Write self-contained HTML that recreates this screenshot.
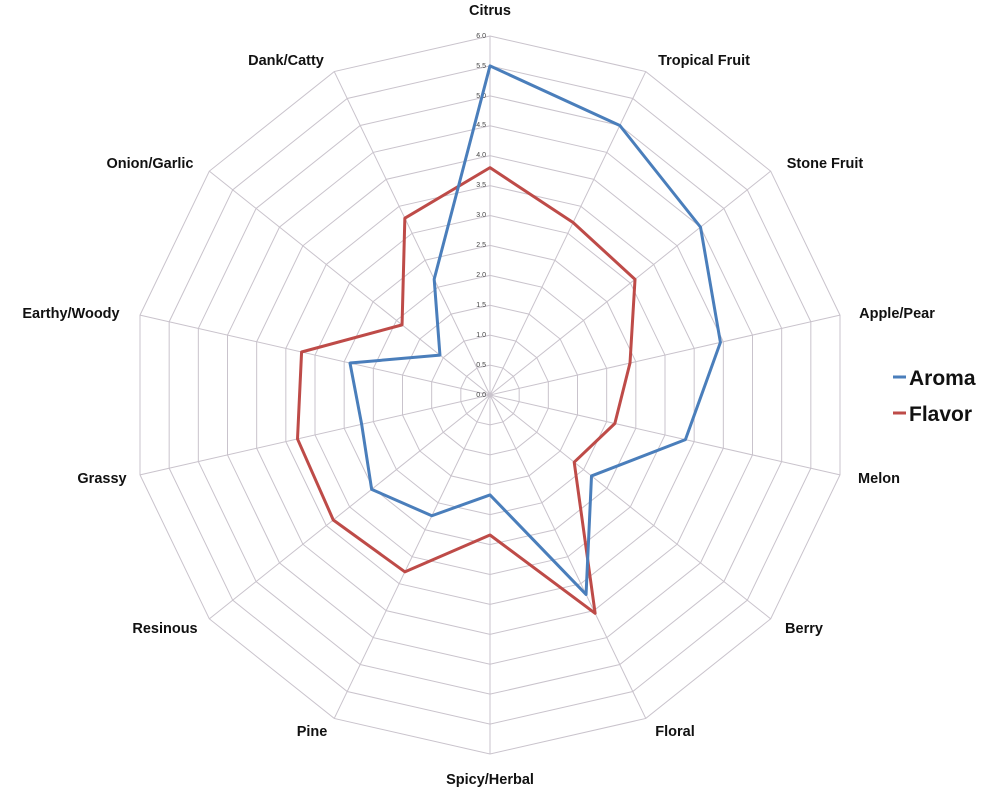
<!DOCTYPE html>
<html><head><meta charset="utf-8"><style>
html,body{margin:0;padding:0;background:#fff;}
svg{display:block;}
.l{font-family:"Liberation Sans",sans-serif;font-weight:bold;font-size:14.5px;fill:#111;text-anchor:middle;}
.t{font-family:"Liberation Sans",sans-serif;font-size:7px;fill:#444;text-anchor:end;}
.g{font-family:"Liberation Sans",sans-serif;font-weight:bold;font-size:21px;fill:#111;}
</style></head><body>
<svg id="s" width="1000" height="794" viewBox="0 0 1000 794" xmlns="http://www.w3.org/2000/svg">
<g id="grid"></g>
<g id="ticks">
<text class="t" x="486" y="397">0.0</text>
<text class="t" x="486" y="367">0.5</text>
<text class="t" x="486" y="337">1.0</text>
<text class="t" x="486" y="307">1.5</text>
<text class="t" x="486" y="277">2.0</text>
<text class="t" x="486" y="247">2.5</text>
<text class="t" x="486" y="217">3.0</text>
<text class="t" x="486" y="187">3.5</text>
<text class="t" x="486" y="157">4.0</text>
<text class="t" x="486" y="127">4.5</text>
<text class="t" x="486" y="98">5.0</text>
<text class="t" x="486" y="68">5.5</text>
<text class="t" x="486" y="38">6.0</text>
</g>
<g id="series"></g>
<text class="l" x="490" y="15">Citrus</text>
<text class="l" x="704" y="65">Tropical Fruit</text>
<text class="l" x="825" y="168">Stone Fruit</text>
<text class="l" x="897" y="318">Apple/Pear</text>
<text class="l" x="879" y="483">Melon</text>
<text class="l" x="804" y="633">Berry</text>
<text class="l" x="675" y="736">Floral</text>
<text class="l" x="490" y="784">Spicy/Herbal</text>
<text class="l" x="312" y="736">Pine</text>
<text class="l" x="165" y="633">Resinous</text>
<text class="l" x="102" y="483">Grassy</text>
<text class="l" x="71" y="318">Earthy/Woody</text>
<text class="l" x="150" y="168">Onion/Garlic</text>
<text class="l" x="286" y="65">Dank/Catty</text>
<line x1="893" y1="377" x2="906" y2="377" stroke="#4a7ebb" stroke-width="3"/>
<text class="g" x="909" y="385">Aroma</text>
<line x1="893" y1="413" x2="906" y2="413" stroke="#be4b48" stroke-width="3"/>
<text class="g" x="909" y="421">Flavor</text>
</svg>
<script>
var cx=490,cy=395,R=359,N=14;
function pt(i,v){var a=i*2*Math.PI/N;var r=v/6*R;return [cx+r*Math.sin(a),cy-r*Math.cos(a)];}
var g=document.getElementById('grid'),h='';
for(var k=1;k<=12;k++){var p=[];for(var i=0;i<N;i++){p.push(pt(i,k*0.5).join(','));}
h+='<polygon points="'+p.join(' ')+'" fill="none" stroke="#c9c3cc" stroke-width="1"/>';}
for(var i=0;i<N;i++){var q=pt(i,6);h+='<line x1="'+cx+'" y1="'+cy+'" x2="'+q[0]+'" y2="'+q[1]+'" stroke="#c9c3cc" stroke-width="1"/>';}
g.innerHTML=h;
var aroma=[5.5,5.0,4.5,3.95,3.35,2.17,3.7,1.67,2.24,2.53,2.2,2.4,1.07,2.15];
var flavor=[3.8,3.2,3.1,2.4,2.14,1.8,4.05,2.34,3.28,3.35,3.3,3.23,1.88,3.28];
function poly(d,c){var p=[];for(var i=0;i<N;i++)p.push(pt(i,d[i]).join(','));return '<polygon points="'+p.join(' ')+'" fill="none" stroke="'+c+'" stroke-width="3" stroke-linejoin="round"/>';}
document.getElementById('series').innerHTML=poly(flavor,'#be4b48')+poly(aroma,'#4a7ebb');
</script>
</body></html>
